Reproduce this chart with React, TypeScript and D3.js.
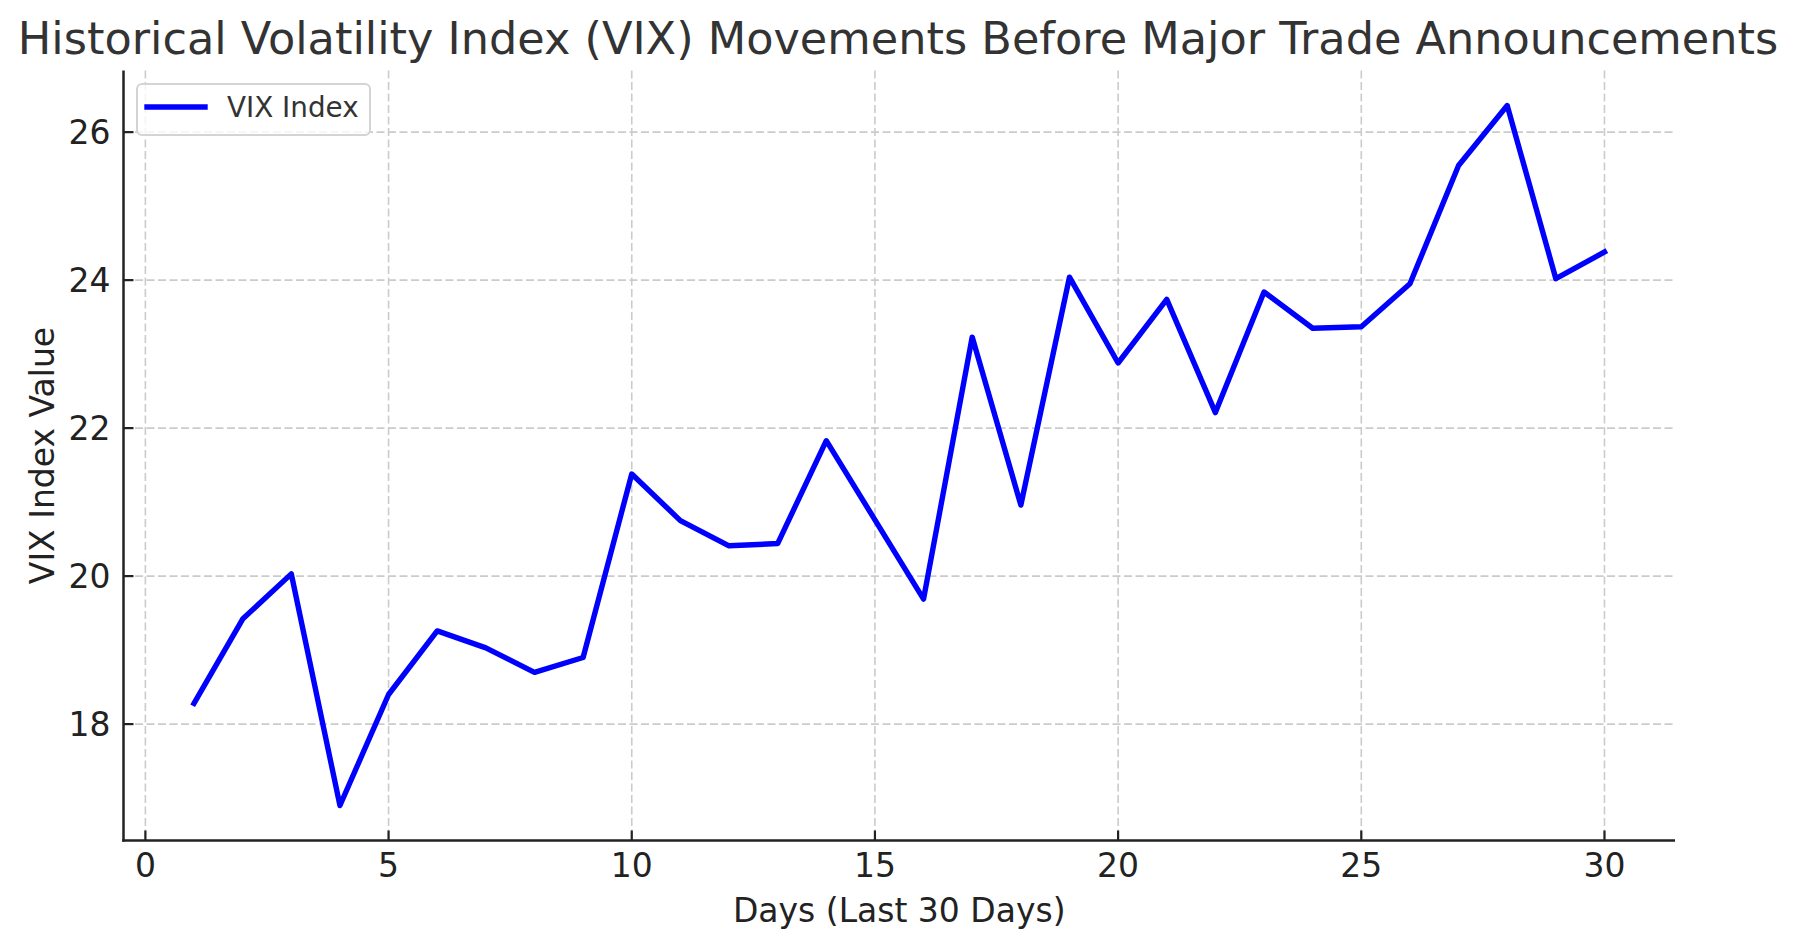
import React from "react";
import * as d3 from "d3";

const days: number[] = [
  1, 2, 3, 4, 5, 6, 7, 8, 9, 10, 11, 12, 13, 14, 15, 16, 17, 18, 19, 20, 21, 22, 23, 24, 25, 26, 27, 28, 29, 30,
];
const vixValues: number[] = [
  18.28, 19.42, 20.03, 16.9, 18.4, 19.26, 19.03, 18.7, 18.9, 21.38, 20.75, 20.41, 20.44, 21.83, 20.76, 19.69,
  23.23, 20.96, 24.04, 22.88, 23.74, 22.21, 23.84, 23.35, 23.37, 23.95, 25.55, 26.36, 24.02, 24.38,
];
const xTicks: number[] = [0, 5, 10, 15, 20, 25, 30];
const yTicks: number[] = [18, 20, 22, 24, 26];
const titleText = "Historical Volatility Index (VIX) Movements Before Major Trade Announcements";
const xLabel = "Days (Last 30 Days)";
const yLabel = "VIX Index Value";
const seriesName = "VIX Index";

const W = 1796;
const H = 947;
const M = { left: 123.5, right: 1675, top: 70.5, bottom: 840.5 };
const FONT = "'DejaVu Sans', sans-serif";

function padDomain(ext: [number, number]): [number, number] {
  const r = ext[1] - ext[0];
  return [ext[0] - r * 0.05, ext[1] + r * 0.05];
}

export default function App() {
  const x = d3
    .scaleLinear()
    .domain(padDomain(d3.extent(days) as [number, number]))
    .range([M.left, M.right]);
  const y = d3
    .scaleLinear()
    .domain(padDomain(d3.extent(vixValues) as [number, number]))
    .range([M.bottom, M.top]);

  const pts: [number, number][] = days.map((d, i) => [d, vixValues[i]]);
  const line = d3
    .line<[number, number]>()
    .x((p) => x(p[0]))
    .y((p) => y(p[1]));

  const gridColor = "#cbcbcb";
  const axisColor = "#222222";

  return (
    <svg
      width={W}
      height={H}
      viewBox={`0 0 ${W} ${H}`}
      style={{ position: "absolute", left: 0, top: 0, background: "#fff" }}
      fontFamily={FONT}
    >
      <rect x={0} y={0} width={W} height={H} fill="#fff" />
      {/* grid */}
      {xTicks.map((t) => (
        <line
          key={"gx" + t}
          x1={x(t)}
          x2={x(t)}
          y1={M.top}
          y2={M.bottom}
          stroke={gridColor}
          strokeWidth={1.6}
          strokeDasharray="8,3.5"
        />
      ))}
      {yTicks.map((t) => (
        <line
          key={"gy" + t}
          x1={M.left}
          x2={M.right}
          y1={y(t)}
          y2={y(t)}
          stroke={gridColor}
          strokeWidth={1.6}
          strokeDasharray="8,3.5"
        />
      ))}
      {/* data line */}
      <path
        d={line(pts) || ""}
        fill="none"
        stroke="#0000ff"
        strokeWidth={5.4}
        strokeLinejoin="round"
        strokeLinecap="square"
      />
      {/* spines */}
      <line x1={M.left} x2={M.left} y1={M.top} y2={M.bottom + 1.2} stroke={axisColor} strokeWidth={2.5} />
      <line x1={M.left - 1.2} x2={M.right} y1={M.bottom} y2={M.bottom} stroke={axisColor} strokeWidth={2.5} />
      {/* x ticks */}
      {xTicks.map((t) => (
        <g key={"xt" + t}>
          <line x1={x(t)} x2={x(t)} y1={M.bottom} y2={M.bottom - 10} stroke={axisColor} strokeWidth={2.2} />
          <text x={x(t)} y={M.bottom + 36} textAnchor="middle" fontSize={33} fill={axisColor}>
            {t}
          </text>
        </g>
      ))}
      {/* y ticks */}
      {yTicks.map((t) => (
        <g key={"yt" + t}>
          <line x1={M.left} x2={M.left + 10} y1={y(t)} y2={y(t)} stroke={axisColor} strokeWidth={2.2} />
          <text x={M.left - 13} y={y(t)} dy="0.36em" textAnchor="end" fontSize={33} fill={axisColor}>
            {t}
          </text>
        </g>
      ))}
      {/* axis labels */}
      <text x={(M.left + M.right) / 2} y={922} textAnchor="middle" fontSize={33} fill={axisColor}>
        {xLabel}
      </text>
      <text
        transform={`translate(54, ${(M.top + M.bottom) / 2}) rotate(-90)`}
        textAnchor="middle"
        fontSize={33}
        fill={axisColor}
      >
        {yLabel}
      </text>
      {/* title */}
      <text x={W / 2} y={54} textAnchor="middle" fontSize={44.6} fill="#333333">
        {titleText}
      </text>
      {/* legend */}
      <g>
        <rect x={137} y={84} width={233} height={51} rx={5} ry={5} fill="#fff" fillOpacity={0.8} stroke="#d4d4d4" strokeWidth={2} />
        <line x1={147} x2={205} y1={107} y2={107} stroke="#0000ff" strokeWidth={5.4} strokeLinecap="square" />
        <text x={227} y={117} fontSize={27.8} fill="#333333">
          {seriesName}
        </text>
      </g>
    </svg>
  );
}
